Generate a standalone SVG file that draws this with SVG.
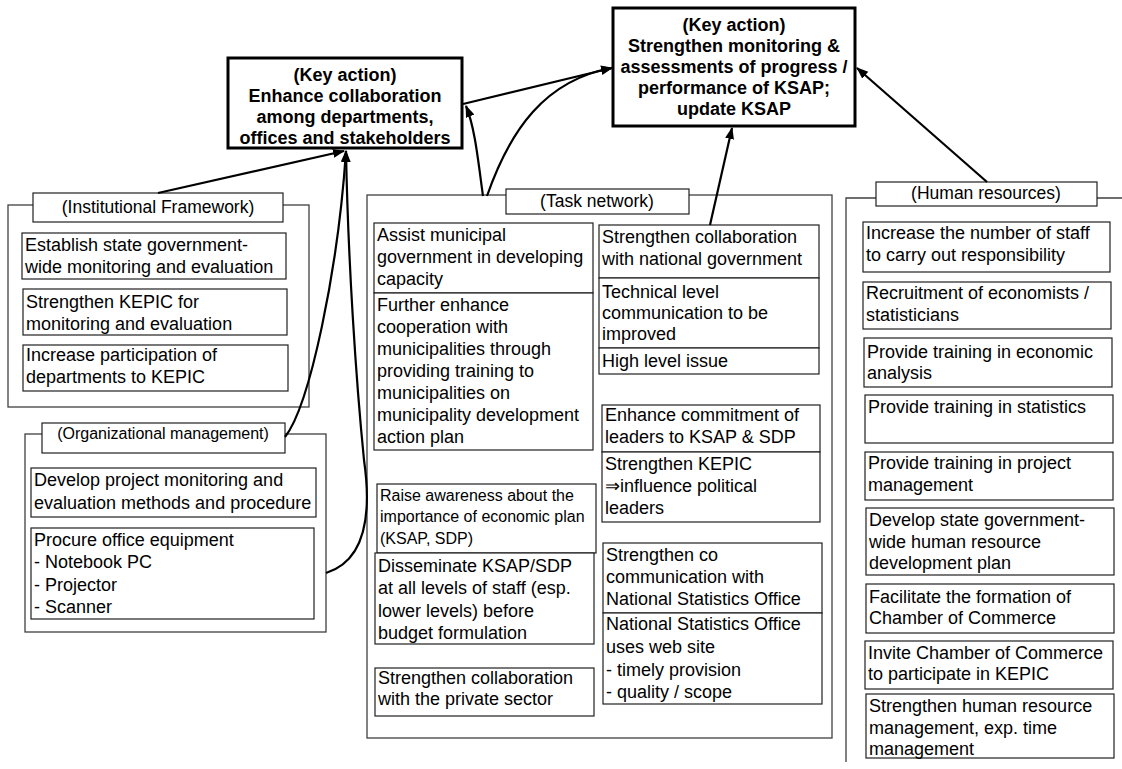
<svg xmlns="http://www.w3.org/2000/svg" width="1122" height="769" viewBox="0 0 1122 769">
  <style>
    text { font-family: "Liberation Sans", Arial, sans-serif; font-size: 18px; fill: #000; }
    .key { font-weight: bold; text-anchor: middle; }
    .lbl { text-anchor: middle; font-size: 17.5px; }
    .frame { fill: none; stroke: #404040; stroke-width: 1.3; }
    .lblbox { fill: #fff; stroke: #202020; stroke-width: 1.2; }
    .box { fill: #fff; stroke: #202020; stroke-width: 1.2; }
    .keybox { fill: #fff; stroke: #000; stroke-width: 3; }
    .conn { fill: none; stroke: #000; stroke-width: 2.2; }
    .small { font-size: 16px; }
  </style>
  <defs>
    <marker id="arrow" markerUnits="userSpaceOnUse" markerWidth="12" markerHeight="10" refX="11" refY="4.5" orient="auto">
      <path d="M0,0 L12,4.5 L0,9 Z" fill="#000"/>
    </marker>
  </defs>
  <rect width="1122" height="769" fill="#fff"/>

  <!-- Key actions -->
  <g id="key-collaboration">
    <rect class="keybox" x="228" y="58" width="234" height="90"/>
    <text class="key" x="345" y="81">(Key action)</text>
    <text class="key" x="345" y="102">Enhance collaboration</text>
    <text class="key" x="345" y="123">among departments,</text>
    <text class="key" x="345" y="144">offices and stakeholders</text>
  </g>
  <g id="key-monitoring">
    <rect class="keybox" x="613" y="8" width="242" height="118"/>
    <text class="key" x="734" y="31">(Key action)</text>
    <text class="key" x="734" y="52">Strengthen monitoring &amp;</text>
    <text class="key" x="734" y="73">assessments of progress /</text>
    <text class="key" x="734" y="94">performance of KSAP;</text>
    <text class="key" x="734" y="115">update KSAP</text>
  </g>

  <!-- Institutional Framework -->
  <g id="institutional">
    <rect class="frame" x="8" y="205" width="301" height="202"/>
    <rect class="lblbox" x="33" y="193" width="250" height="29"/>
    <text class="lbl" x="158" y="213">(Institutional Framework)</text>
    <rect class="box" x="22" y="233" width="264" height="46"/>
    <text x="25" y="251">Establish state government-</text>
    <text x="25" y="273">wide monitoring and evaluation</text>
    <rect class="box" x="23" y="289" width="264" height="46"/>
    <text x="26" y="308">Strengthen KEPIC for</text>
    <text x="26" y="330">monitoring and evaluation</text>
    <rect class="box" x="23" y="345" width="265" height="46"/>
    <text x="26" y="361">Increase participation of</text>
    <text x="26" y="383">departments to KEPIC</text>
  </g>

  <!-- Organizational management -->
  <g id="organizational">
    <rect class="frame" x="25" y="434" width="301" height="198"/>
    <rect class="lblbox" x="42" y="423" width="243" height="30"/>
    <text class="lbl" x="163" y="439" style="font-size:16px">(Organizational management)</text>
    <rect class="box" x="31" y="468" width="285" height="49"/>
    <text x="34" y="486">Develop project monitoring and</text>
    <text x="34" y="509">evaluation methods and procedure</text>
    <rect class="box" x="31" y="528" width="283" height="91"/>
    <text x="34" y="546">Procure office equipment</text>
    <text x="34" y="568">- Notebook PC</text>
    <text x="34" y="591">- Projector</text>
    <text x="34" y="613">- Scanner</text>
  </g>

  <!-- Task network -->
  <g id="task-network">
    <rect class="frame" x="367" y="195" width="465" height="543"/>
    <rect class="lblbox" x="506" y="189" width="183" height="25"/>
    <text class="lbl" x="597" y="207">(Task network)</text>

    <rect class="box" x="374" y="223" width="219" height="70"/>
    <text x="377" y="241">Assist municipal</text>
    <text x="377" y="263">government in developing</text>
    <text x="377" y="285">capacity</text>
    <rect class="box" x="374" y="293" width="219" height="157"/>
    <text x="377" y="311">Further enhance</text>
    <text x="377" y="333">cooperation with</text>
    <text x="377" y="355">municipalities through</text>
    <text x="377" y="377">providing training to</text>
    <text x="377" y="399">municipalities on</text>
    <text x="377" y="421">municipality development</text>
    <text x="377" y="443">action plan</text>

    <rect class="box" x="377" y="484" width="219" height="69"/>
    <text class="small" x="380" y="501">Raise awareness about the</text>
    <text class="small" x="380" y="522">importance of economic plan</text>
    <text class="small" x="380" y="544">(KSAP, SDP)</text>
    <rect class="box" x="375" y="553" width="219" height="91"/>
    <text x="378" y="572">Disseminate KSAP/SDP</text>
    <text x="378" y="594">at all levels of staff (esp.</text>
    <text x="378" y="617">lower levels) before</text>
    <text x="378" y="639">budget formulation</text>
    <rect class="box" x="375" y="668" width="219" height="48"/>
    <text x="378" y="684">Strengthen collaboration</text>
    <text x="378" y="705">with the private sector</text>

    <rect class="box" x="599" y="225" width="220" height="53"/>
    <text x="602" y="243">Strengthen collaboration</text>
    <text x="602" y="265">with national government</text>
    <rect class="box" x="599" y="278" width="220" height="70"/>
    <text x="602" y="298">Technical level</text>
    <text x="602" y="319">communication to be</text>
    <text x="602" y="340">improved</text>
    <rect class="box" x="599" y="348" width="220" height="26"/>
    <text x="602" y="367">High level issue</text>

    <rect class="box" x="602" y="405" width="218" height="47"/>
    <text x="605" y="421">Enhance commitment of</text>
    <text x="605" y="443">leaders to KSAP &amp; SDP</text>
    <rect class="box" x="602" y="452" width="218" height="70"/>
    <text x="605" y="470">Strengthen KEPIC</text>
    <text x="605" y="492">⇒influence political</text>
    <text x="605" y="514">leaders</text>

    <rect class="box" x="603" y="543" width="219" height="70"/>
    <text x="606" y="561">Strengthen co</text>
    <text x="606" y="583">communication with</text>
    <text x="606" y="605">National Statistics Office</text>
    <rect class="box" x="603" y="613" width="219" height="91"/>
    <text x="606" y="630">National Statistics Office</text>
    <text x="606" y="653">uses web site</text>
    <text x="606" y="676">- timely provision</text>
    <text x="606" y="698">- quality / scope</text>
  </g>

  <!-- Human resources -->
  <g id="human-resources">
    <path class="frame" d="M1122,198 L846,198 L846,762"/>
    <rect class="lblbox" x="876" y="182" width="221" height="24"/>
    <text class="lbl" x="986" y="199">(Human resources)</text>
    <rect class="box" x="863" y="222" width="247" height="50"/>
    <text x="866" y="239">Increase the number of staff</text>
    <text x="866" y="261">to carry out responsibility</text>
    <rect class="box" x="863" y="282" width="248" height="47"/>
    <text x="866" y="299">Recruitment of economists /</text>
    <text x="866" y="321">statisticians</text>
    <rect class="box" x="864" y="338" width="248" height="49"/>
    <text x="867" y="358">Provide training in economic</text>
    <text x="867" y="379">analysis</text>
    <rect class="box" x="865" y="395" width="248" height="48"/>
    <text x="868" y="413">Provide training in statistics</text>
    <rect class="box" x="865" y="452" width="248" height="48"/>
    <text x="868" y="469">Provide training in project</text>
    <text x="868" y="491">management</text>
    <rect class="box" x="866" y="508" width="248" height="67"/>
    <text x="869" y="526">Develop state government-</text>
    <text x="869" y="548">wide human resource</text>
    <text x="869" y="569">development plan</text>
    <rect class="box" x="866" y="584" width="248" height="49"/>
    <text x="869" y="603">Facilitate the formation of</text>
    <text x="869" y="624">Chamber of Commerce</text>
    <rect class="box" x="865" y="641" width="248" height="48"/>
    <text x="868" y="659">Invite Chamber of Commerce</text>
    <text x="868" y="680">to participate in KEPIC</text>
    <rect class="box" x="866" y="694" width="248" height="64"/>
    <text x="869" y="712">Strengthen human resource</text>
    <text x="869" y="734">management, exp. time</text>
    <text x="869" y="755">management</text>
  </g>

  <!-- Connectors -->
  <g id="connectors">
    <path class="conn" d="M158,193 L344,151" marker-end="url(#arrow)"/>
    <path class="conn" d="M285,437 C310,405 338,270 346,151" marker-end="url(#arrow)"/>
    <path class="conn" d="M326,573 C358,563 374,530 364,460 C356,380 348,260 346,151" marker-end="url(#arrow)"/>
    <path class="conn" d="M483,196 C478,160 475,128 466,106" marker-end="url(#arrow)"/>
    <path class="conn" d="M487,196 C510,130 545,80 612,68" marker-end="url(#arrow)"/>
    <path class="conn" d="M463,104 L612,68" marker-end="url(#arrow)"/>
    <path class="conn" d="M710,225 L732,128" marker-end="url(#arrow)"/>
    <path class="conn" d="M987,182 L857,68" marker-end="url(#arrow)"/>
  </g>
</svg>
